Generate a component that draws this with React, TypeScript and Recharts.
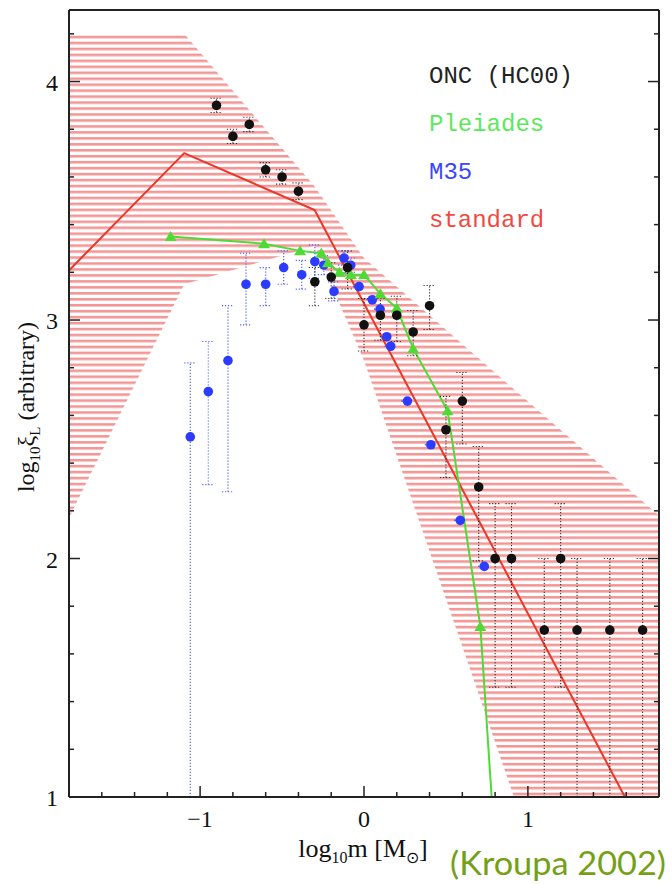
import React from "react";
import {
  Area,
  ComposedChart,
  Customized,
  ErrorBar,
  Line,
  Scatter,
  XAxis,
  YAxis,
} from "recharts";

const W = 672;
const H = 884;

// axis ticks
const xTicks = [-1.6, -1.4, -1.2, -1, -0.8, -0.6, -0.4, -0.2, 0, 0.2, 0.4, 0.6, 0.8, 1, 1.2, 1.4, 1.6];
const xMajor = [-1, 0, 1];
const yTicks = [1, 1.2, 1.4, 1.6, 1.8, 2, 2.2, 2.4, 2.6, 2.8, 3, 3.2, 3.4, 3.6, 3.8, 4, 4.2];
const yMajor = [1, 2, 3, 4];

// standard IMF (broken power law)
const standardX = [-1.8, -1.097, -0.301, 1.592];
const standardY = [3.208, 3.7, 3.461, 1.0];

// uncertainty band of the standard IMF
const bandX = [-1.8, -1.097, -0.301, 0, 0.915, 1.8];
const bandLow = [2.17, 3.15, 3.31, 2.83, 1.0, 1.0];
const bandHigh = [4.2, 4.2, 3.56, 3.26, 2.71, 2.18];

// ONC (HC00)
const oncX = [-0.9, -0.8, -0.7, -0.6, -0.5, -0.4, -0.3, -0.2, -0.1, 0, 0.1, 0.2, 0.3, 0.4, 0.5, 0.6, 0.7, 0.8, 0.9, 1.1, 1.2, 1.3, 1.5, 1.7];
const oncY = [3.9, 3.77, 3.82, 3.63, 3.6, 3.54, 3.16, 3.18, 3.22, 2.98, 3.02, 3.02, 2.95, 3.06, 2.54, 2.66, 2.3, 2.0, 2.0, 1.7, 2.0, 1.7, 1.7, 1.7];
const oncErrLo = [0.03, 0.03, 0.03, 0.03, 0.03, 0.035, 0.1, 0.09, 0.09, 0.11, 0.105, 0.11, 0.1, 0.1, 0.2, 0.18, 0.31, 0.54, 0.54, 0.7, 0.54, 0.7, 0.7, 0.7];
const oncErrHi = [0.03, 0.03, 0.03, 0.03, 0.03, 0.035, 0.06, 0.06, 0.07, 0.11, 0.07, 0.08, 0.09, 0.085, 0.14, 0.12, 0.17, 0.23, 0.23, 0.3, 0.23, 0.3, 0.3, 0.3];

// M35
const m35X = [-1.06, -0.95, -0.83, -0.72, -0.6, -0.49, -0.38, -0.3, -0.245, -0.183, -0.122, -0.081, -0.03, 0.051, 0.098, 0.139, 0.163, 0.265, 0.408, 0.587, 0.734];
const m35Y = [2.51, 2.7, 2.83, 3.15, 3.15, 3.22, 3.19, 3.245, 3.23, 3.12, 3.26, 3.23, 3.14, 3.085, 3.046, 2.93, 2.89, 2.66, 2.477, 2.16, 1.967];
const m35ErrLo = [1.51, 0.39, 0.55, 0.17, 0.09, 0.07, 0.06, 0.07, 0.04, 0.04, 0.03, 0.03, 0, 0, 0, 0, 0, 0, 0, 0, 0];
const m35ErrHi = [0.31, 0.21, 0.23, 0.13, 0.07, 0.07, 0.06, 0.07, 0.04, 0.04, 0.03, 0.03, 0, 0, 0, 0, 0, 0, 0, 0, 0];

// Pleiades
const pleiadesX = [-1.18, -0.61, -0.39, -0.26, -0.22, -0.15, -0.08, 0.0, 0.1, 0.2, 0.3, 0.51, 0.71];
const pleiadesY = [3.35, 3.32, 3.29, 3.28, 3.24, 3.2, 3.19, 3.19, 3.11, 3.05, 2.88, 2.62, 1.715];
const pleiadesTailX = [0.8];
const pleiadesTailY = [0.78];

const standard = standardX.map((x, i) => ({ x, y: standardY[i] }));
const band = bandX.map((x, i) => ({ x, range: [bandLow[i], bandHigh[i]] }));
const onc = oncX.map((x, i) => ({ x, y: oncY[i], err: [oncErrLo[i], oncErrHi[i]] }));
const m35 = m35X.map((x, i) => ({ x, y: m35Y[i], err: [m35ErrLo[i], m35ErrHi[i]] }));
const pleiades = pleiadesX.map((x, i) => ({ x, y: pleiadesY[i] }));
const pleiadesLine = [
  ...pleiades,
  ...pleiadesTailX.map((x, i) => ({ x, y: pleiadesTailY[i] })),
];

const FRAME = "#222";
const RED = "#e8382a";
const GREEN = "#4fdb35";
const BLUE = "#2b3cff";
const serif = "'Liberation Serif', 'Times New Roman', serif";
const mono = "'Liberation Mono', 'Courier New', monospace";

const fmt = (v: number) => (v < 0 ? `\u2212${-v}` : `${v}`);

const BottomTick = (p: any) => {
  const v = p.payload.value;
  const major = xMajor.includes(v);
  return (
    <g>
      <line x1={p.x} x2={p.x} y1={p.y} y2={p.y - (major ? 11 : 5)} stroke={FRAME} strokeWidth={1.5} />
      {major && (
        <text x={p.x} y={p.y + 30} textAnchor="middle" fontFamily={serif} fontSize={24} fill="#111">
          {fmt(v)}
        </text>
      )}
    </g>
  );
};

const TopTick = (p: any) => {
  const major = xMajor.includes(p.payload.value);
  return <line x1={p.x} x2={p.x} y1={p.y} y2={p.y + (major ? 11 : 5)} stroke={FRAME} strokeWidth={1.5} />;
};

const LeftTick = (p: any) => {
  const v = p.payload.value;
  const major = yMajor.includes(v);
  return (
    <g>
      <line x1={p.x} x2={p.x + (major ? 11 : 5)} y1={p.y} y2={p.y} stroke={FRAME} strokeWidth={1.5} />
      {major && (
        <text x={p.x - 11} y={p.y + 9} textAnchor="end" fontFamily={serif} fontSize={24} fill="#111">
          {v}
        </text>
      )}
    </g>
  );
};

const RightTick = (p: any) => {
  const major = yMajor.includes(p.payload.value);
  return <line x1={p.x} x2={p.x - (major ? 11 : 5)} y1={p.y} y2={p.y} stroke={FRAME} strokeWidth={1.5} />;
};

const Dot = (p: any) => <circle cx={p.cx} cy={p.cy} r={4.8} fill={p.color} />;

const Triangle = (p: any) => (
  <polygon
    points={`${p.cx - 6},${p.cy + 4.5} ${p.cx + 6},${p.cy + 4.5} ${p.cx},${p.cy - 5.5}`}
    fill={GREEN}
  />
);

function Annotations() {
  return (
    <g>
      <text x={429} y={83} fontFamily={mono} fontSize={24} fill="#222">ONC (HC00)</text>
      <text x={429} y={131} fontFamily={mono} fontSize={24} fill="#5ce85a">Pleiades</text>
      <text x={429} y={179} fontFamily={mono} fontSize={24} fill="#3a46ff">M35</text>
      <text x={429} y={227} fontFamily={mono} fontSize={24} fill="#f04a40">standard</text>
      <text transform="translate(34,407) rotate(-90)" textAnchor="middle" fontFamily={serif} fontSize={24} fill="#111">
        log<tspan dy={6} fontSize={15}>10</tspan>
        <tspan dy={-6}>ξ</tspan>
        <tspan dy={6} fontSize={15}>L</tspan>
        <tspan dy={-6}> (arbitrary)</tspan>
      </text>
      <text x={363} y={857} textAnchor="middle" fontFamily={serif} fontSize={26} fill="#111">
        log<tspan dy={6} fontSize={16}>10</tspan>
        <tspan dy={-6}>m [M</tspan>
        <tspan dy={6} fontSize={16}>⊙</tspan>
        <tspan dy={-6}>]</tspan>
      </text>
      <text
        x={450}
        y={875}
        fontFamily="Lato, 'Open Sans', sans-serif"
        fontSize={32}
        fill="#74a016"
        textLength={216}
        lengthAdjust="spacingAndGlyphs"
      >
        (Kroupa 2002)
      </text>
    </g>
  );
}

export default function App() {
  const axisLine = { stroke: FRAME, strokeWidth: 2 };
  return (
    <div style={{ position: "absolute", left: 0, top: 0, width: W, height: H, background: "#fff" }}>
      <ComposedChart width={W} height={H} margin={{ top: 0, right: 0, bottom: 0, left: 0 }}>
        <defs>
          <pattern id="hatch" patternUnits="userSpaceOnUse" width={12} height={5.96}>
            <rect x={0} y={0} width={12} height={2.6} fill="#f39696" />
          </pattern>
        </defs>
        <XAxis
          xAxisId="b"
          type="number"
          dataKey="x"
          domain={[-1.8, 1.8]}
          ticks={xTicks}
          interval={0}
          height={87}
          tickSize={0}
          tickMargin={0}
          tickLine={false}
          axisLine={axisLine}
          tick={(p: any) => <BottomTick {...p} />}
          allowDataOverflow
        />
        <XAxis
          xAxisId="t"
          orientation="top"
          type="number"
          domain={[-1.8, 1.8]}
          ticks={xTicks}
          interval={0}
          height={10}
          tickSize={0}
          tickMargin={0}
          tickLine={false}
          axisLine={axisLine}
          tick={(p: any) => <TopTick {...p} />}
          allowDataOverflow
        />
        <YAxis
          yAxisId="l"
          type="number"
          dataKey="y"
          domain={[1, 4.3]}
          ticks={yTicks}
          interval={0}
          width={69}
          tickSize={0}
          tickMargin={0}
          tickLine={false}
          axisLine={axisLine}
          tick={(p: any) => <LeftTick {...p} />}
          allowDataOverflow
        />
        <YAxis
          yAxisId="r"
          orientation="right"
          type="number"
          domain={[1, 4.3]}
          ticks={yTicks}
          interval={0}
          width={13}
          tickSize={0}
          tickMargin={0}
          tickLine={false}
          axisLine={axisLine}
          tick={(p: any) => <RightTick {...p} />}
          allowDataOverflow
        />
        <Area
          xAxisId="b"
          yAxisId="l"
          data={band}
          dataKey="range"
          type="linear"
          stroke="none"
          fill="url(#hatch)"
          fillOpacity={1}
          isAnimationActive={false}
        />
        <Line
          xAxisId="b"
          yAxisId="l"
          data={standard}
          dataKey="y"
          type="linear"
          stroke={RED}
          strokeWidth={2}
          dot={false}
          activeDot={false}
          isAnimationActive={false}
        />
        <Line
          xAxisId="b"
          yAxisId="l"
          data={pleiadesLine}
          dataKey="y"
          type="linear"
          stroke={GREEN}
          strokeWidth={2}
          dot={false}
          activeDot={false}
          isAnimationActive={false}
        />
        <Scatter
          xAxisId="b"
          yAxisId="l"
          data={m35}
          shape={(p: any) => <Dot {...p} color={BLUE} />}
          isAnimationActive={false}
        >
          <ErrorBar dataKey="err" direction="y" width={6} stroke="#5563ff" strokeWidth={1.2} strokeDasharray="1.2 1.8" />
        </Scatter>
        <Scatter
          xAxisId="b"
          yAxisId="l"
          data={pleiades}
          shape={(p: any) => <Triangle {...p} />}
          isAnimationActive={false}
        />
        <Scatter
          xAxisId="b"
          yAxisId="l"
          data={onc}
          shape={(p: any) => <Dot {...p} color="#111" />}
          isAnimationActive={false}
        >
          <ErrorBar dataKey="err" direction="y" width={6} stroke="#333" strokeWidth={1.1} strokeDasharray="1.2 1.8" />
        </Scatter>
        <Customized component={Annotations} />
      </ComposedChart>
    </div>
  );
}
